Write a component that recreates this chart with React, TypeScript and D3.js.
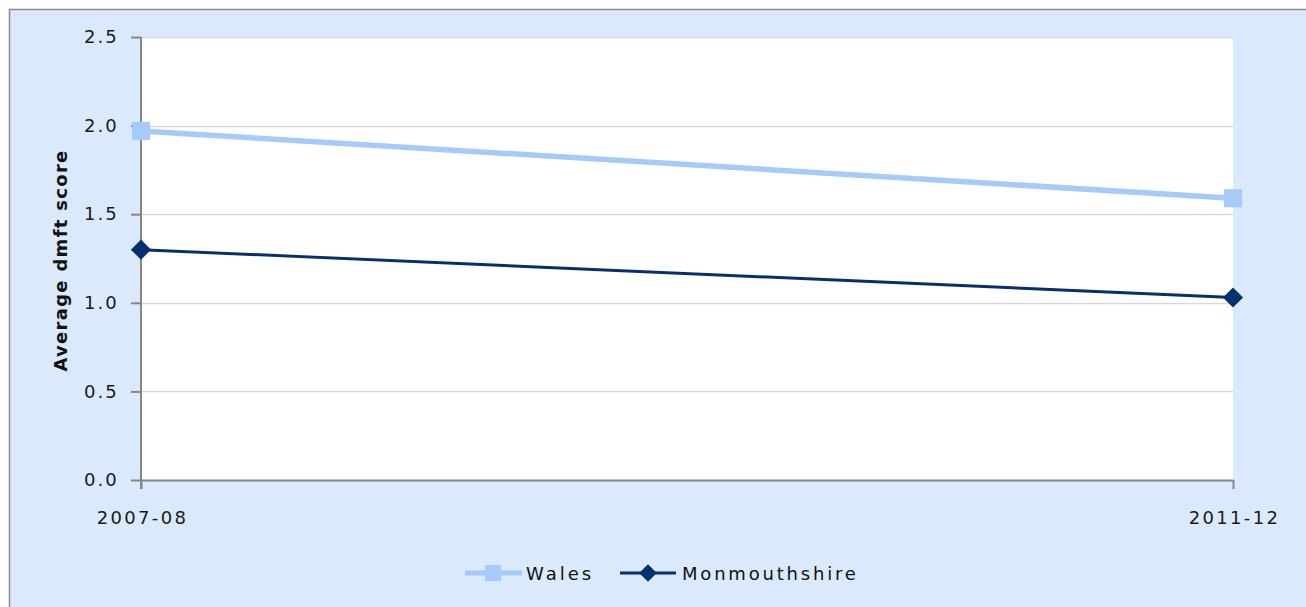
import React, { useEffect, useRef } from 'react';
import * as d3 from 'd3';

// categories and series values
const periods: string[] = ['2007-08', '2011-12'];
const walesValues: number[] = [1.97, 1.59];
const monmouthshireValues: number[] = [1.30, 1.03];
const yTicks: number[] = [0, 0.5, 1.0, 1.5, 2.0, 2.5];

const FONT = '"DejaVu Sans", Verdana, sans-serif';

const App = () => {
  const chartRef = useRef<SVGSVGElement>(null);

  useEffect(() => {
    if (chartRef.current) {
      drawChart();
    }
  }, []);

  const drawChart = () => {
    const svg = d3.select(chartRef.current);
    svg.selectAll('*').remove();

    const W = 1306;
    const H = 607;
    const plot = { left: 141, right: 1233, top: 37, bottom: 480 };

    // chart background + border
    svg.append('rect')
      .attr('x', 0).attr('y', 0).attr('width', W).attr('height', H)
      .attr('fill', '#fff');
    svg.append('rect')
      .attr('x', 9.5).attr('y', 9.5).attr('width', W + 10).attr('height', H + 10)
      .attr('fill', '#dbe9fd')
      .attr('stroke', '#8c8c8c')
      .attr('stroke-width', 1.5);

    // plot area
    svg.append('rect')
      .attr('x', plot.left).attr('y', plot.top)
      .attr('width', plot.right - plot.left).attr('height', plot.bottom - plot.top)
      .attr('fill', '#ffffff');

    const x = d3.scalePoint<string>()
      .domain(periods)
      .range([plot.left, plot.right]);

    const y = d3.scaleLinear()
      .domain([0, 2.5])
      .range([plot.bottom, plot.top]);

    // gridlines
    svg.append('g')
      .selectAll('line')
      .data(yTicks.filter(t => t > 0))
      .enter()
      .append('line')
      .attr('x1', plot.left).attr('x2', plot.right)
      .attr('y1', d => Math.round(y(d)) + 0.5).attr('y2', d => Math.round(y(d)) + 0.5)
      .attr('stroke', '#d9d9d9')
      .attr('stroke-width', 1.5);

    // y axis
    const yAxis = svg.append('g')
      .attr('transform', `translate(${plot.left},0)`)
      .call(d3.axisLeft(y).tickValues(yTicks).tickFormat(d3.format('.1f')).tickSize(10).tickPadding(24));
    yAxis.select('.domain').attr('stroke', '#868686').attr('stroke-width', 2).attr('d', `M0,${plot.top}V${plot.bottom + 9}`);
    yAxis.selectAll('.tick line').attr('stroke', '#868686').attr('stroke-width', 2);
    yAxis.selectAll('.tick text')
      .attr('fill', '#1a1a1a')
      .attr('text-anchor', 'start')
      .attr('x', -57)
      .style('font-family', FONT)
      .style('font-size', '18px')
      .style('letter-spacing', '2px');

    // x axis
    const xAxis = svg.append('g')
      .attr('transform', `translate(0,${plot.bottom})`)
      .call(d3.axisBottom(x).tickSize(9).tickPadding(22).tickSizeOuter(0));
    xAxis.select('.domain').attr('stroke', '#868686').attr('stroke-width', 2);
    xAxis.selectAll('.tick line').attr('stroke', '#868686').attr('stroke-width', 2);
    xAxis.selectAll('.tick text')
      .attr('fill', '#1a1a1a')
      .attr('dx', '1px')
      .style('font-family', FONT)
      .style('font-size', '18px')
      .style('letter-spacing', '2.3px');

    // y axis title
    svg.append('text')
      .attr('transform', `translate(67,${(148 + 373) / 2}) rotate(-90)`)
      .attr('text-anchor', 'middle')
      .style('font-family', FONT)
      .style('font-size', '18px')
      .style('font-weight', 'bold')
      .style('letter-spacing', '1.3px')
      .attr('fill', '#111')
      .text('Average dmft score');

    const line = d3.line<number>()
      .x((_, i) => x(periods[i]) || 0)
      .y(d => y(d));

    // Wales
    svg.append('path')
      .datum(walesValues)
      .attr('d', line)
      .attr('fill', 'none')
      .attr('stroke', '#a6cafa')
      .attr('stroke-width', 5.5);
    svg.selectAll('.wales-mark')
      .data(walesValues)
      .enter()
      .append('rect')
      .attr('class', 'wales-mark')
      .attr('x', (_, i) => (x(periods[i]) || 0) - 9)
      .attr('y', d => y(d) - 9)
      .attr('width', 18).attr('height', 18)
      .attr('fill', '#a6cafa');

    // Monmouthshire
    svg.append('path')
      .datum(monmouthshireValues)
      .attr('d', line)
      .attr('fill', 'none')
      .attr('stroke', '#04316e')
      .attr('stroke-width', 3);
    const diamond = d3.symbol().type(d3.symbolDiamond2).size(260);
    svg.selectAll('.mon-mark')
      .data(monmouthshireValues)
      .enter()
      .append('path')
      .attr('class', 'mon-mark')
      .attr('transform', (d, i) => `translate(${x(periods[i])},${y(d)})`)
      .attr('d', diamond)
      .attr('fill', '#04316e');

    // legend
    const legendY = 573;
    const lg = svg.append('g');
    lg.append('line')
      .attr('x1', 465).attr('x2', 522).attr('y1', legendY).attr('y2', legendY)
      .attr('stroke', '#a6cafa').attr('stroke-width', 5);
    lg.append('rect')
      .attr('x', 493 - 8).attr('y', legendY - 8).attr('width', 16).attr('height', 16)
      .attr('fill', '#a6cafa');
    lg.append('text')
      .attr('x', 526).attr('y', legendY + 6.5)
      .style('font-family', FONT).style('font-size', '18px').style('letter-spacing', '3px')
      .attr('fill', '#111')
      .text('Wales');

    lg.append('line')
      .attr('x1', 620).attr('x2', 676).attr('y1', legendY).attr('y2', legendY)
      .attr('stroke', '#04316e').attr('stroke-width', 3);
    lg.append('path')
      .attr('transform', `translate(648,${legendY})`)
      .attr('d', d3.symbol().type(d3.symbolDiamond2).size(200))
      .attr('fill', '#04316e');
    lg.append('text')
      .attr('x', 682).attr('y', legendY + 6.5)
      .style('font-family', FONT).style('font-size', '18px').style('letter-spacing', '2.8px')
      .attr('fill', '#111')
      .text('Monmouthshire');
  };

  return (
    <svg ref={chartRef} width={1306} height={607}
      style={{ position: 'absolute', left: 0, top: 0, display: 'block' }} />
  );
};

export default App;
